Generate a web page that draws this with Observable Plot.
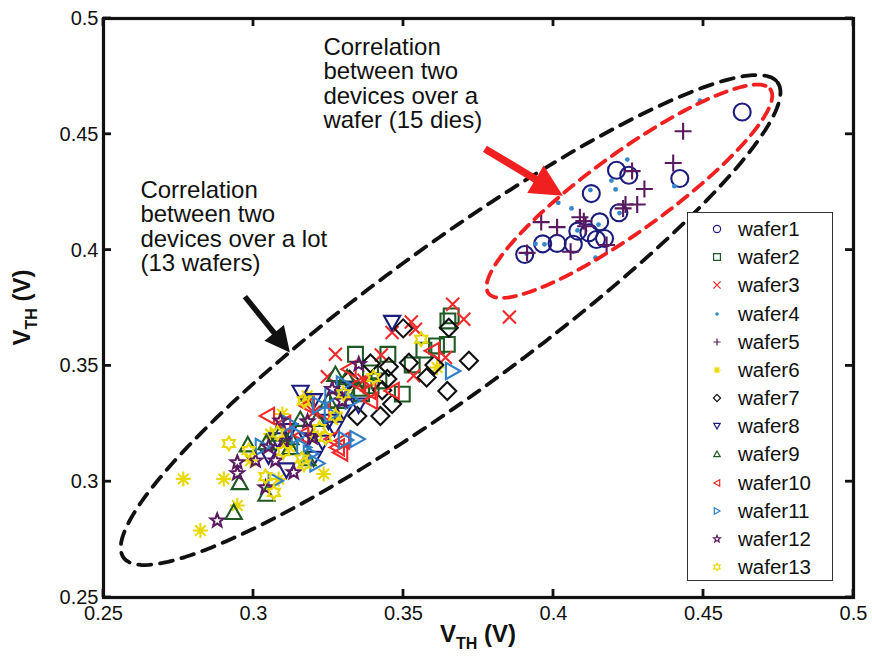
<!DOCTYPE html>
<html><head><meta charset="utf-8">
<script src="https://cdn.jsdelivr.net/npm/d3@7"></script>
<script src="https://cdn.jsdelivr.net/npm/@observablehq/plot@0.6"></script>
<style>
html,body{margin:0;padding:0;background:#fff;}
#wrap{position:relative;width:872px;height:661px;font-family:"Liberation Sans",Arial,sans-serif;}
#legend{position:absolute;left:687px;top:212px;width:146px;height:369px;border:1.5px solid #333;background:#fff;box-sizing:border-box;}
.row{position:absolute;left:0;height:28px;width:140px;font-size:20.5px;color:#111;}
.row svg{position:absolute;left:20px;top:5px;}
.row span{position:absolute;left:50px;top:3px;line-height:22px;}
</style></head><body><div id="wrap"></div>
<script>
// ---------- data (V_TH of device A, V_TH of device B) ----------
const xTicks = [0.25, 0.3, 0.35, 0.4, 0.45, 0.5];
const yTicks = [0.25, 0.3, 0.35, 0.4, 0.45, 0.5];
const seriesNames = ["wafer1","wafer2","wafer3","wafer4","wafer5","wafer6","wafer7","wafer8","wafer9","wafer10","wafer11","wafer12","wafer13"];

const wafer1 = [[0.4629,0.4596],[0.4210,0.4345],[0.4251,0.4323],[0.4421,0.4309],[0.4126,0.4244],[0.4218,0.4161],[0.4154,0.4122],[0.4081,0.4082],[0.4118,0.4075],[0.4143,0.4046],[0.4170,0.4050],[0.4012,0.4029],[0.3964,0.4027],[0.4066,0.4025],[0.3904,0.3981]];
const wafer2 = [[0.3659,0.3716],[0.3648,0.3694],[0.3646,0.3593],[0.3610,0.3586],[0.3568,0.3568],[0.3448,0.3550],[0.3529,0.3504],[0.3496,0.3378],[0.3392,0.3414],[0.3340,0.3550],[0.3418,0.3435],[0.3310,0.3400],[0.3360,0.3380],[0.3280,0.3350],[0.3390,0.3470]];
const wafer3 = [[0.3664,0.3766],[0.3701,0.3701],[0.3526,0.3690],[0.3462,0.3644],[0.3540,0.3658],[0.3426,0.3547],[0.3640,0.3536],[0.3368,0.3438],[0.3534,0.3457],[0.3853,0.3711],[0.3273,0.3550],[0.3246,0.3453],[0.3300,0.3380],[0.3200,0.3300],[0.3350,0.3420]];
const wafer4 = [[0.4488,0.4645],[0.4246,0.4391],[0.4193,0.4300],[0.4207,0.4262],[0.4123,0.4259],[0.4403,0.4276],[0.4016,0.4204],[0.4060,0.4180],[0.3940,0.4027],[0.4140,0.3967],[0.4080,0.4085],[0.4150,0.4110],[0.4220,0.4160],[0.3970,0.4025],[0.3910,0.3985]];
const wafer5 = [[0.4432,0.4513],[0.4399,0.4376],[0.4303,0.4264],[0.4262,0.4341],[0.4279,0.4197],[0.4240,0.4197],[0.4232,0.4180],[0.4088,0.4142],[0.4101,0.4125],[0.4012,0.4099],[0.3959,0.4121],[0.4177,0.4022],[0.4057,0.3993],[0.3912,0.3988],[0.4107,0.4103]];
const wafer6 = [[0.2766,0.3012],[0.2901,0.3012],[0.2823,0.2789],[0.2946,0.2897],[0.3096,0.3292],[0.3057,0.3206],[0.3234,0.3033],[0.3084,0.3012],[0.2990,0.3091],[0.3179,0.3371],[0.3279,0.3277],[0.3173,0.3349],[0.3612,0.3493],[0.3120,0.3150],[0.3200,0.3200]];
const wafer7 = [[0.3499,0.3662],[0.3651,0.3665],[0.3718,0.3522],[0.3646,0.3392],[0.3390,0.3510],[0.3451,0.3496],[0.3518,0.3514],[0.3577,0.3450],[0.3603,0.3504],[0.3446,0.3443],[0.3429,0.3395],[0.3346,0.3284],[0.3423,0.3284],[0.3462,0.3335],[0.3320,0.3440]];
const wafer8 = [[0.3462,0.3687],[0.3157,0.3385],[0.3201,0.3349],[0.3110,0.3050],[0.3050,0.3110],[0.3180,0.3180],[0.3250,0.3260],[0.3300,0.3300],[0.3120,0.3220],[0.3230,0.3170],[0.3300,0.3400],[0.3200,0.3100],[0.3080,0.3180],[0.3350,0.3330],[0.3270,0.3230]];
const wafer9 = [[0.3043,0.3169],[0.2981,0.3160],[0.2954,0.2997],[0.3043,0.2947],[0.3088,0.3206],[0.3122,0.3148],[0.2934,0.2868],[0.3156,0.3270],[0.3123,0.3191],[0.3212,0.3270],[0.3312,0.3450],[0.3273,0.3464],[0.3180,0.3100],[0.3250,0.3350],[0.3350,0.3400]];
const wafer10 = [[0.3046,0.3284],[0.3318,0.3486],[0.3390,0.3349],[0.3179,0.3328],[0.3279,0.3148],[0.3296,0.3177],[0.3596,0.3565],[0.3462,0.3392],[0.3384,0.3392],[0.3290,0.3126],[0.3262,0.3184],[0.3230,0.3300],[0.3350,0.3420],[0.3160,0.3200],[0.3100,0.3250]];
const wafer11 = [[0.3664,0.3478],[0.3346,0.3184],[0.3307,0.3180],[0.3168,0.3148],[0.3262,0.3371],[0.3212,0.3079],[0.3073,0.3004],[0.3120,0.3250],[0.3220,0.3330],[0.3300,0.3420],[0.3150,0.3200],[0.3030,0.3150],[0.3260,0.3290],[0.3190,0.3120],[0.3330,0.3350]];
const wafer12 = [[0.2879,0.2832],[0.2946,0.3083],[0.2946,0.3036],[0.3007,0.3091],[0.3090,0.3263],[0.3040,0.2975],[0.3073,0.3091],[0.3101,0.3177],[0.3262,0.3400],[0.3296,0.3349],[0.3351,0.3507],[0.3196,0.3191],[0.3134,0.3040],[0.3180,0.3260],[0.3050,0.3150]];
const wafer13 = [[0.2918,0.3165],[0.3040,0.3022],[0.2984,0.3134],[0.3559,0.3615],[0.3168,0.3076],[0.3068,0.2954],[0.3168,0.3349],[0.3273,0.3284],[0.3240,0.3191],[0.3162,0.3098],[0.3100,0.3130],[0.3300,0.3380],[0.3220,0.3230],[0.3080,0.3210],[0.3400,0.3450]];
const seriesData = [wafer1,wafer2,wafer3,wafer4,wafer5,wafer6,wafer7,wafer8,wafer9,wafer10,wafer11,wafer12,wafer13];

// annotation ellipses: center, two conjugate half-axis vectors (data units)
const lotEllipse = {c:[0.3657,0.3698], a:[0.109,0.1026], b:[0.0145,-0.0258]};
const waferEllipse = {c:[0.4253,0.4254], a:[0.047,0.044], b:[0.00763,-0.01362]};
// annotation texts and arrows
const noteText = ["Correlation\nbetween two\ndevices over a\nwafer (15 dies)", "Correlation\nbetween two\ndevices over a lot\n(13 wafers)"];
const noteX = [0.3233, 0.2623];
const noteY = [0.4918, 0.4300];
const arrowFrom = [[0.3773,0.4435],[0.2973,0.3797]];
const arrowTo = [[0.4033,0.4233],[0.3123,0.3556]];

// ---------- styles ----------
const seriesColors = ["#1c1c7c","#1f5a24","#f02a2a","#3388cc","#5a1a60","#e8d800","#111111","#1c1c7c","#1f5a24","#f02a2a","#2f7fc8","#5a1a60","#e8d800"];
const seriesSymbols = ["circle","square","times","point","plus","asterisk","diamond","triDown","triUp","triLeft","triRight","pentagram","hexagram"];
const seriesRadius = [8.5,7.8,6.5,2.4,8.5,7.5,9,9,9,9,9,7,7];

const mk = fn => ({draw(c, size){ fn(c, Math.sqrt(size/Math.PI)); }});
function poly(c, pts){ c.moveTo(pts[0][0],pts[0][1]); for(let i=1;i<pts.length;i++) c.lineTo(pts[i][0],pts[i][1]); c.closePath(); }
function star(c, r, n, inner){ const pts=[]; for(let i=0;i<2*n;i++){ const ang=-Math.PI/2+i*Math.PI/n; const rr = i%2? r*inner : r; pts.push([rr*Math.cos(ang), rr*Math.sin(ang)]);} poly(c, pts); }
const symbols = {
  circle: mk((c,r)=>{c.moveTo(r,0); c.arc(0,0,r,0,2*Math.PI);}),
  point: mk((c,r)=>{c.moveTo(r,0); c.arc(0,0,r,0,2*Math.PI);}),
  square: mk((c,r)=>{const s=r*0.95; poly(c,[[-s,-s],[s,-s],[s,s],[-s,s]]);}),
  times: mk((c,r)=>{c.moveTo(-r,-r);c.lineTo(r,r);c.moveTo(r,-r);c.lineTo(-r,r);}),
  plus: mk((c,r)=>{c.moveTo(-r,0);c.lineTo(r,0);c.moveTo(0,-r);c.lineTo(0,r);}),
  asterisk: mk((c,r)=>{for(let k=0;k<4;k++){const a=k*Math.PI/4; c.moveTo(-r*Math.cos(a),-r*Math.sin(a)); c.lineTo(r*Math.cos(a),r*Math.sin(a));}}),
  diamond: mk((c,r)=>poly(c,[[0,-r],[r,0],[0,r],[-r,0]])),
  triUp: mk((c,r)=>poly(c,[[0,-r*0.85],[r*0.9,r*0.75],[-r*0.9,r*0.75]])),
  triDown: mk((c,r)=>poly(c,[[0,r*0.85],[r*0.9,-r*0.75],[-r*0.9,-r*0.75]])),
  triLeft: mk((c,r)=>poly(c,[[-r*0.85,0],[r*0.75,r*0.9],[r*0.75,-r*0.9]])),
  triRight: mk((c,r)=>poly(c,[[r*0.85,0],[-r*0.75,r*0.9],[-r*0.75,-r*0.9]])),
  pentagram: mk((c,r)=>star(c,r,5,0.42)),
  hexagram: mk((c,r)=>star(c,r,6,0.58))
};

function ellipsePoints(e, n=200){
  return d3.range(n+1).map(i=>{const t=2*Math.PI*i/n; return {x:e.c[0]+e.a[0]*Math.cos(t)+e.b[0]*Math.sin(t), y:e.c[1]+e.a[1]*Math.cos(t)+e.b[1]*Math.sin(t)};});
}

const marks = [];
seriesData.forEach((pts, i) => {
  const data = pts.map(([x,y]) => ({x, y, wafer: seriesNames[i]}));
  const isPoint = seriesSymbols[i] === "point";
  marks.push(Plot.dot(data, {x:"x", y:"y", symbol: symbols[seriesSymbols[i]], r: seriesRadius[i],
    stroke: isPoint ? "none" : seriesColors[i], fill: isPoint ? seriesColors[i] : "none", strokeWidth: 2.1}));
});
marks.push(Plot.line(ellipsePoints(lotEllipse), {x:"x", y:"y", stroke:"#111", strokeWidth:3.8, strokeDasharray:"13,9"}));
marks.push(Plot.line(ellipsePoints(waferEllipse), {x:"x", y:"y", stroke:"#f02020", strokeWidth:3.8, strokeDasharray:"12,8"}));
const notes = noteText.map((t,i)=>({t, x:noteX[i], y:noteY[i]}));
marks.push(Plot.text(notes, {x:"x", y:"y", text:"t", textAnchor:"start", lineAnchor:"top", fontSize:24, lineHeight:1.02, fill:"#111"}));
marks.push(Plot.axisX({ticks:xTicks, tickFormat:d=>String(d), tickSize:0, tickPadding:8, fontSize:20, label:null}));
marks.push(Plot.axisY({ticks:yTicks, tickFormat:d=>String(d), tickSize:0, tickPadding:5, fontSize:20, label:null}));
marks.push(Plot.frame({stroke:"#111", strokeWidth:3.2}));

const chart = Plot.plot({
  width:872, height:661, marginLeft:103, marginRight:19, marginTop:18, marginBottom:64,
  x:{domain:[0.25,0.5]}, y:{domain:[0.25,0.5]},
  style:{fontFamily:'"Liberation Sans", Arial, sans-serif', fontSize:"20px", color:"#111", background:"#fff", overflow:"visible"},
  marks
});
document.getElementById("wrap").appendChild(chart);

// inward ticks, arrows and axis labels drawn with the plot's own scales
const sx = chart.scale("x"), sy = chart.scale("y");
const svg = d3.select(chart);
const X0 = sx.apply(0.25), X1 = sx.apply(0.5), Y0 = sy.apply(0.25), Y1 = sy.apply(0.5);
const tg = svg.append("g").attr("stroke","#111").attr("stroke-width",2.8);
xTicks.forEach(v=>{ const px=sx.apply(v);
  tg.append("line").attr("x1",px).attr("x2",px).attr("y1",Y0).attr("y2",Y0-8);
  tg.append("line").attr("x1",px).attr("x2",px).attr("y1",Y1).attr("y2",Y1+8); });
yTicks.forEach(v=>{ const py=sy.apply(v);
  tg.append("line").attr("y1",py).attr("y2",py).attr("x1",X0).attr("x2",X0+8);
  tg.append("line").attr("y1",py).attr("y2",py).attr("x1",X1).attr("x2",X1-8); });

const arrowStyle = [{color:"#f02020", w:7.5, L:32, W:16},{color:"#111", w:5.5, L:25, W:12.5}];
arrowFrom.forEach((f,i)=>{
  const s = arrowStyle[i];
  const x1=sx.apply(f[0]), y1=sy.apply(f[1]), x2=sx.apply(arrowTo[i][0]), y2=sy.apply(arrowTo[i][1]);
  const dx=x2-x1, dy=y2-y1, len=Math.hypot(dx,dy), ux=dx/len, uy=dy/len;
  const bx=x2-ux*s.L, by=y2-uy*s.L;
  svg.append("line").attr("x1",x1).attr("y1",y1).attr("x2",bx+ux*2).attr("y2",by+uy*2).attr("stroke",s.color).attr("stroke-width",s.w);
  svg.append("polygon").attr("points",`${x2},${y2} ${bx-uy*s.W},${by+ux*s.W} ${bx+uy*s.W},${by-ux*s.W}`).attr("fill",s.color);
});

function vthLabel(g){
  const t = g.append("text").attr("font-weight","bold").attr("font-size",24).attr("fill","#111").attr("text-anchor","middle");
  t.append("tspan").text("V");
  t.append("tspan").attr("font-size",16).attr("dy",7).text("TH");
  t.append("tspan").attr("dy",-7).text(" (V)");
  return t;
}
vthLabel(svg.append("g").attr("transform",`translate(${(X0+X1)/2},642)`));
vthLabel(svg.append("g").attr("transform",`translate(30,${(Y0+Y1)/2}) rotate(-90)`));

// legend
const leg = d3.select("#wrap").append("div").attr("id","legend");
seriesNames.forEach((name,i)=>{
  const row = leg.append("div").attr("class","row").style("top",(2+i*28.17)+"px");
  const s = row.append("svg").attr("width",18).attr("height",18);
  const p = d3.path(); const r = seriesSymbols[i]==="point"?1.8:3.6; symbols[seriesSymbols[i]].draw(p, r*r*Math.PI);
  const isPoint = seriesSymbols[i]==="point";
  s.append("path").attr("transform","translate(9,9)").attr("d",p.toString())
    .attr("fill", isPoint?seriesColors[i]:"none").attr("stroke", isPoint?"none":seriesColors[i]).attr("stroke-width",1.2);
  row.append("span").text(name);
});
</script></body></html>
